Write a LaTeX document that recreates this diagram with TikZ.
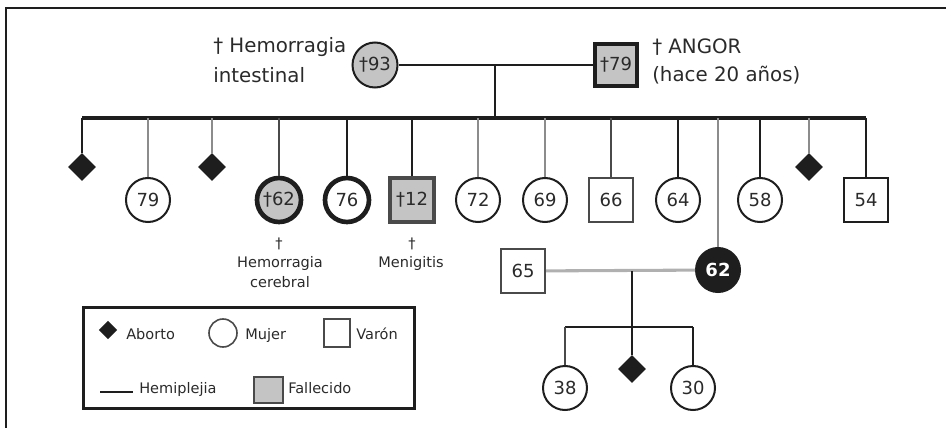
\documentclass[tikz,border=0pt]{standalone}
\usepackage{fontspec}
\setmainfont{DejaVu Sans}
\usetikzlibrary{shapes.geometric}
\definecolor{ink}{HTML}{1E1E1E}
\definecolor{txt}{HTML}{2A2A2A}
\definecolor{midgray}{HTML}{8C8C8C}
\definecolor{darkline}{HTML}{4A4A4A}
\definecolor{paleline}{HTML}{B0B0B0}
\definecolor{deadfill}{HTML}{C4C4C4}
\newcommand\pedBig{\fontsize{14.85}{18}\selectfont}
\newcommand\pedNum{\fontsize{13.5}{16}\selectfont}
\newcommand\pedSmall{\fontsize{10.9}{13}\selectfont}
\tikzset{
  fem/.style={circle, draw=ink, line width=1.5pt, minimum size=33pt, inner sep=0pt, font=\pedNum, text=txt},
  male/.style={rectangle, draw=ink, line width=1.5pt, minimum size=33pt, inner sep=0pt, font=\pedNum, text=txt},
  abort/.style={diamond, fill=ink, draw=none, minimum size=21pt, inner sep=0pt},
  heavy/.style={line width=3.5pt},
  dead/.style={fill=deadfill},
  hemi/.style={draw=ink, line width=2pt},
  plain/.style={draw=midgray, line width=2pt},
  half/.style={draw=darkline, line width=2pt},
  label/.style={inner sep=0pt, text=txt},
}
\begin{document}
\begin{tikzpicture}[x=0.75pt, y=-0.75pt]
\useasboundingbox (0,0) rectangle (946,428);
% outer frame (top and left edges)
\draw[ink, line width=1.9pt] (6,428) -- (6,8) -- (946,8);

% grandparents
\node[fem, dead, minimum size=33.75pt] (p93) at (375,65) {†93};
\node[male, dead, draw=ink, line width=3pt, minimum size=32pt] (p79) at (616,65) {†79};
\draw[hemi] (p93) -- (p79);
\coordinate (pm) at (495,65);

\node[label, font=\pedBig, anchor=base west] (t1a) at (213,53) {† Hemorragia};
\node[label, font=\pedBig, anchor=base west] (t1b) at (213,83) {intestinal};
\node[label, font=\pedBig, anchor=base west] (t2a) at (652,54) {† ANGOR};
\node[label, font=\pedBig, anchor=base west] (t2b) at (652,82) {(hace 20 años)};

% sibship line
\coordinate (sibL) at (82,118);
\coordinate (sibR) at (866,118);
\draw[hemi, line width=2.3pt] (sibL) -- (sibR);
\draw[hemi] (pm) -- (pm |- sibL);

% children
\node[abort] (a1) at (82,167) {};
\node[fem] (c79) at (148,200) {79};
\node[abort] (a2) at (212,167) {};
\node[fem, dead, heavy] (c62) at (279,200) {†62};
\node[fem, heavy] (c76) at (347,200) {76};
\node[male, dead, draw=darkline, line width=2.3pt] (c12) at (412,200) {†12};
\node[fem] (c72) at (478,200) {72};
\node[fem] (c69) at (545,200) {69};
\node[male, draw=darkline, line width=2pt] (c66) at (611,200) {66};
\node[fem] (c64) at (678,200) {64};
\node[fem] (c58) at (760,200) {58};
\node[abort] (a3) at (809,167) {};
\node[male] (c54) at (866,200) {54};
\node[fem, fill=ink, draw=ink, text=white, font=\pedNum\bfseries] (d62) at (718,270) {62};

\draw[hemi]  (a1.north)  -- (a1 |- sibL);
\draw[plain] (c79.north) -- (c79 |- sibL);
\draw[plain] (a2.north)  -- (a2 |- sibL);
\draw[half]  (c62.north) -- (c62 |- sibL);
\draw[hemi]  (c76.north) -- (c76 |- sibL);
\draw[hemi]  (c12.north) -- (c12 |- sibL);
\draw[plain] (c72.north) -- (c72 |- sibL);
\draw[plain] (c69.north) -- (c69 |- sibL);
\draw[half]  (c66.north) -- (c66 |- sibL);
\draw[hemi]  (c64.north) -- (c64 |- sibL);
\draw[plain] (d62.north) -- (d62 |- sibL);
\draw[hemi]  (c58.north) -- (c58 |- sibL);
\draw[plain] (a3.north)  -- (a3 |- sibL);
\draw[hemi]  (c54.north) -- (c54 |- sibL);

% causes of death
\node[label, font=\pedSmall, anchor=base] (x62) at (279,248) {†};
\node[label, font=\pedSmall, anchor=base] (x62a) at (280,267) {Hemorragia};
\node[label, font=\pedSmall, anchor=base] (x62b) at (280,287) {cerebral};
\node[label, font=\pedSmall, anchor=base] (x12) at (412,248) {†};
\node[label, font=\pedSmall, anchor=base] (x12a) at (411,267) {Menigitis};

% second marriage and offspring
\node[male, draw=darkline] (h65) at (523,271) {65};
\draw[draw=paleline, line width=2.3pt] (h65) -- (d62);
\coordinate (m2) at (632,271);
\coordinate (sib2) at (632,327);
\node[fem] (g38) at (565,388) {38};
\node[abort] (a4) at (632,369) {};
\node[fem] (g30) at (693,388) {30};
\draw[hemi] (m2) -- (a4.north);
\draw[hemi] (g38 |- sib2) -- (g30 |- sib2);
\draw[half] (g38.north) -- (g38 |- sib2);
\draw[hemi] (g30.north) -- (g30 |- sib2);

% legend
\node[draw=ink, line width=2.2pt, minimum width=248pt, minimum height=75.75pt, inner sep=0pt, anchor=north west] (leg) at (82,306) {};
\node[abort, minimum size=14pt] (lab) at (108,330) {};
\node[label, font=\pedSmall, anchor=base west] (labt) at (126,339) {Aborto};
\node[fem, draw=darkline, line width=1.2pt, minimum size=21pt] (lfem) at (223,333) {};
\node[label, font=\pedSmall, anchor=base west] (lfemt) at (245,339) {Mujer};
\node[male, draw=darkline, line width=1.2pt, minimum width=19.5pt, minimum height=21pt] (lmale) at (337,333) {};
\node[label, font=\pedSmall, anchor=base west] (lmalet) at (356,339) {Varón};
\coordinate (lh1) at (100,392);
\coordinate (lh2) at (133,392);
\draw[draw=ink, line width=2.2pt] (lh1) -- (lh2);
\node[label, font=\pedSmall, anchor=base west] (lht) at (139,393) {Hemiplejia};
\node[male, dead, draw=darkline, line width=1.5pt, minimum width=21.75pt, minimum height=19.5pt] (ldead) at (268,390) {};
\node[label, font=\pedSmall, anchor=base west] (ldeadt) at (288,393) {Fallecido};
\end{tikzpicture}
\end{document}
